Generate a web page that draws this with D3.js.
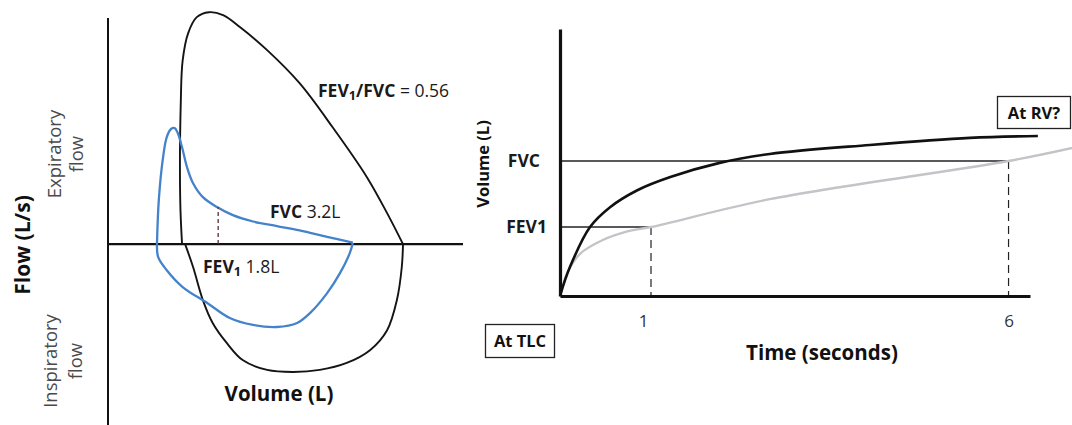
<!DOCTYPE html>
<html>
<head>
<meta charset="utf-8">
<script src="https://cdn.jsdelivr.net/npm/d3@7/dist/d3.min.js"></script>
<style>
  html, body { margin: 0; padding: 0; background: #ffffff; }
  svg { display: block; font-family: "Open Sans", Lato, sans-serif; }
</style>
</head>
<body>
<svg id="chart" width="1072" height="425"></svg>
<script>
// ---------- Flow-volume loops (left panel) ----------
// [volume (L), flow (L/s)]
const normalExpiratory = [
  [1.21, 0], [1.18, 1.52], [1.19, 4.97], [1.22, 6.34], [1.31, 7.28], [1.45, 7.83],
  [1.65, 8.0], [1.88, 7.9], [2.16, 7.48], [2.6, 6.69], [3.13, 5.55], [3.67, 4.03],
  [4.23, 2.31], [4.56, 1.07], [4.82, 0]
];
const normalInspiratory = [
  [4.82, 0], [4.8, -0.79], [4.72, -1.93], [4.56, -2.97], [4.28, -3.66], [3.9, -4.1],
  [3.46, -4.34], [3.02, -4.41], [2.6, -4.34], [2.2, -4.0], [1.94, -3.41], [1.71, -2.72],
  [1.55, -1.93], [1.39, -0.79], [1.26, 0]
];
const obstructedExpiratory = [
  [0.8, 0], [0.83, 1.52], [0.9, 3.0], [0.96, 3.69], [1.03, 3.97], [1.09, 4.0],
  [1.14, 3.83], [1.21, 3.34], [1.29, 2.66], [1.39, 2.1], [1.55, 1.62], [1.78, 1.28],
  [2.04, 1.0], [2.37, 0.78], [2.76, 0.62], [3.13, 0.47], [3.58, 0.25], [4.0, 0.05]
];
const obstructedInspiratory = [
  [4.0, 0.05], [3.95, -0.31], [3.79, -1.0], [3.58, -1.69], [3.3, -2.38], [3.09, -2.72],
  [2.76, -2.86], [2.37, -2.79], [1.99, -2.55], [1.62, -2.03], [1.22, -1.48],
  [0.96, -0.9], [0.82, -0.45], [0.8, 0]
];
const fev1Volume = 1.8;     // L
const fvcVolume = 3.2;      // L
const fevFvcRatio = 0.56;

// ---------- Volume-time curves (right panel) ----------
const normalTime   = [0, 0.11, 0.33, 0.55, 0.85, 1.27, 1.96, 2.66, 4.06, 5.46, 6.41];
const normalVolume = [0, 0.76, 1.8, 2.22, 2.58, 2.86, 3.16, 3.35, 3.54, 3.69, 3.73];
const obstructedTime   = [0, 0.08, 0.22, 0.47, 0.73, 1, 2.66, 6, 6.9];
const obstructedVolume = [0, 0.6, 1.1, 1.46, 1.68, 1.8, 2.39, 3.2, 3.48];
const timeTicks = [1, 6];
const volumeMarks = [fev1Volume, fvcVolume];
const volumeMarkNames = ["FEV1", "FVC"];

const svg = d3.select("#chart");

// ---------------- left panel ----------------
const xVol = d3.scaleLinear().domain([0, 5.8]).range([108, 463]);
const yFlow = d3.scaleLinear().domain([-6.24, 7.8]).range([425, 18]);

const loopLine = d3.line()
  .x(d => xVol(d[0])).y(d => yFlow(d[1]))
  .curve(d3.curveCatmullRom.alpha(0.5));

const left = svg.append("g");

// axes
left.append("line")
  .attr("x1", xVol(0)).attr("x2", xVol(0))
  .attr("y1", yFlow.range()[1]).attr("y2", yFlow.range()[0])
  .attr("stroke", "#111").attr("stroke-width", 2);
left.append("line")
  .attr("x1", xVol(0)).attr("x2", xVol.range()[1])
  .attr("y1", yFlow(0)).attr("y2", yFlow(0))
  .attr("stroke", "#111").attr("stroke-width", 2.4);

// loops
[normalExpiratory, normalInspiratory].forEach(seg => {
  left.append("path").attr("d", loopLine(seg))
    .attr("fill", "none").attr("stroke", "#141414").attr("stroke-width", 1.9)
    .attr("stroke-linejoin", "round");
});
[obstructedExpiratory, obstructedInspiratory].forEach(seg => {
  left.append("path").attr("d", loopLine(seg))
    .attr("fill", "none").attr("stroke", "#4483cc").attr("stroke-width", 2.3)
    .attr("stroke-linejoin", "round");
});

// FEV1 marker under the obstructed expiratory limb
const flowAtFev1 = 1.28;
left.append("line")
  .attr("x1", xVol(fev1Volume)).attr("x2", xVol(fev1Volume))
  .attr("y1", yFlow(0)).attr("y2", yFlow(flowAtFev1))
  .attr("stroke", "#5a2f33").attr("stroke-width", 1.3)
  .attr("stroke-dasharray", "4,3");

// annotations
function subLabel(g, x, y, parts, size) {
  const t = g.append("text").attr("x", x).attr("y", y)
    .attr("font-size", size).attr("fill", "#1a1a1a");
  parts.forEach(p => {
    const s = t.append("tspan").text(p.text)
      .attr("font-weight", p.bold ? 700 : 400);
    if (p.sub) s.attr("font-size", size * 0.72).attr("dy", 3);
    if (p.after) s.attr("dy", -3);
  });
  return t;
}
subLabel(left, 318, 97, [
  { text: "FEV", bold: true }, { text: "1", bold: true, sub: true },
  { text: "/FVC", bold: true, after: true }, { text: " = " + fevFvcRatio.toFixed(2) }
], 17.5);
subLabel(left, 270, 218, [
  { text: "FVC", bold: true }, { text: " " + fvcVolume.toFixed(1) + "L" }
], 17.5);
subLabel(left, 203, 273, [
  { text: "FEV", bold: true }, { text: "1", bold: true, sub: true },
  { text: " " + fev1Volume.toFixed(1) + "L", after: true }
], 17.5);

left.append("text").attr("x", 279).attr("y", 401)
  .attr("text-anchor", "middle").attr("font-size", 20.5).attr("font-weight", 700)
  .attr("fill", "#111").text("Volume (L)");

left.append("text")
  .attr("transform", "translate(30,245) rotate(-90)")
  .attr("text-anchor", "middle").attr("font-size", 21).attr("font-weight", 700)
  .attr("fill", "#111").text("Flow (L/s)");

function rotatedPair(cx1, cx2, cy, lines) {
  lines.forEach((s, i) => {
    left.append("text")
      .attr("transform", `translate(${i === 0 ? cx1 : cx2},${cy}) rotate(-90)`)
      .attr("text-anchor", "middle").attr("font-size", 18.5)
      .attr("fill", "#4a4a4a").text(s);
  });
}
rotatedPair(61, 83, 154, ["Expiratory", "flow"]);
rotatedPair(57, 82, 361, ["Inspiratory", "flow"]);

// ---------------- right panel ----------------
const xTime = d3.scaleLinear().domain([0, 1, 6.3]).range([560, 651, 1030]);
const yVolR = d3.scaleLinear().domain([0, 1.8, 6]).range([296, 227, 29]);

const right = svg.append("g");
const curve = d3.line()
  .x(d => xTime(d[0])).y(d => yVolR(d[1]))
  .curve(d3.curveCatmullRom.alpha(0.5));

// guide lines to FEV1 (t = 1 s) and FVC (t = 6 s)
right.append("line")
  .attr("x1", xTime(0)).attr("x2", xTime(1))
  .attr("y1", yVolR(fev1Volume)).attr("y2", yVolR(fev1Volume))
  .attr("stroke", "#222").attr("stroke-width", 1.3);
right.append("line")
  .attr("x1", xTime(0)).attr("x2", xTime(6))
  .attr("y1", yVolR(fvcVolume)).attr("y2", yVolR(fvcVolume))
  .attr("stroke", "#222").attr("stroke-width", 1.3);
[[1, fev1Volume], [6, fvcVolume]].forEach(([t, v]) => {
  right.append("line")
    .attr("x1", xTime(t)).attr("x2", xTime(t))
    .attr("y1", yVolR(v)).attr("y2", yVolR(0))
    .attr("stroke", "#222").attr("stroke-width", 1.2)
    .attr("stroke-dasharray", "8,5");
});

// curves
right.append("path")
  .attr("d", curve(obstructedTime.map((t, i) => [t, obstructedVolume[i]])))
  .attr("fill", "none").attr("stroke", "#c3c3c8").attr("stroke-width", 2.3);
right.append("path")
  .attr("d", curve(normalTime.map((t, i) => [t, normalVolume[i]])))
  .attr("fill", "none").attr("stroke", "#111").attr("stroke-width", 2.6);

// axes
const xAxis = d3.axisBottom(xTime).tickValues(timeTicks).tickSize(0).tickPadding(19)
  .tickFormat(d3.format("d"));
const gx = right.append("g").attr("transform", `translate(0,${yVolR(0)})`).call(xAxis);
gx.select(".domain").attr("stroke", "#111").attr("stroke-width", 3);
gx.selectAll("text").attr("font-size", 17).attr("fill", "#333")
  .attr("font-family", "'Open Sans', sans-serif")
  .attr("dx", d => d === 1 ? -8 : 0);

const yAxis = d3.axisLeft(yVolR).tickValues(volumeMarks).tickSize(0).tickPadding(13)
  .tickFormat((d, i) => volumeMarkNames[i]);
const gy = right.append("g").attr("transform", `translate(${xTime(0)},0)`).call(yAxis);
gy.select(".domain").attr("stroke", "#111").attr("stroke-width", 3.2);
gy.selectAll("text").attr("font-size", 17.5).attr("font-weight", 700).attr("fill", "#1a1a1a")
  .attr("font-family", "'Open Sans', sans-serif")
  .attr("dx", d => d === fvcVolume ? -7 : 0);

right.append("text")
  .attr("transform", "translate(489,164) rotate(-90)")
  .attr("text-anchor", "middle").attr("font-size", 16.5).attr("font-weight", 700)
  .attr("fill", "#111").text("Volume (L)");

right.append("text").attr("x", 822).attr("y", 360)
  .attr("text-anchor", "middle").attr("font-size", 20.5).attr("font-weight", 700)
  .attr("fill", "#111").text("Time (seconds)");

function boxLabel(x, y, w, h, label) {
  right.append("rect").attr("x", x).attr("y", y).attr("width", w).attr("height", h)
    .attr("fill", "#fff").attr("stroke", "#222").attr("stroke-width", 1.3);
  right.append("text").attr("x", x + w / 2).attr("y", y + h / 2 + 6)
    .attr("text-anchor", "middle").attr("font-size", 16.5).attr("font-weight", 700)
    .attr("fill", "#111").text(label);
}
boxLabel(485.5, 324.5, 69, 33, "At TLC");
boxLabel(997.5, 96.5, 73, 32, "At RV?");
</script>
</body>
</html>
